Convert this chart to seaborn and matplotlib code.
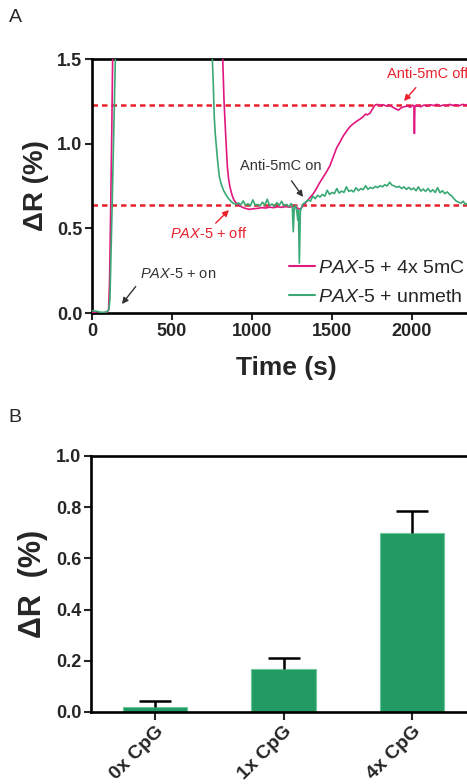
import matplotlib
matplotlib.use("Agg")
import matplotlib.pyplot as plt
import seaborn as sns
import pandas as pd

# ---- Panel A: SPR traces (time in s, delta R in %) ----
t_meth = [0, 20, 40, 60, 80, 95, 104, 110, 118, 124, 129, 140, 760, 817, 825, 835,
          846, 854, 862, 874, 887, 905, 925, 950, 970, 987, 1010, 1035, 1060, 1085,
          1110, 1135, 1160, 1185, 1210, 1235, 1260, 1280, 1300, 1315, 1330, 1350,
          1370, 1383, 1400, 1420, 1440, 1467, 1487, 1505, 1529, 1550, 1570, 1592,
          1612, 1630, 1650, 1675, 1696, 1710, 1720, 1737, 1750, 1769, 1785, 1800,
          1820, 1840, 1860, 1880, 1900, 1915, 1930, 1950, 1970, 1990, 2005, 2012,
          2015, 2018, 2035, 2055, 2075, 2095, 2115, 2135, 2155, 2175, 2195, 2215,
          2235, 2255, 2275, 2295, 2315, 2335, 2355, 2375, 2400]
dr_meth = [0.005, 0.0, -0.003, 0.0, 0.002, 0.005, 0.02, 0.2, 0.7, 1.1, 1.5, 2.3, 2.4,
           1.5, 1.258, 1.06, 0.864, 0.79, 0.746, 0.70, 0.667, 0.645, 0.632, 0.62,
           0.615, 0.612, 0.616, 0.618, 0.622, 0.62, 0.625, 0.622, 0.627, 0.624,
           0.628, 0.625, 0.63, 0.622, 0.612, 0.628, 0.645, 0.668, 0.69, 0.705, 0.73,
           0.765, 0.795, 0.836, 0.87, 0.915, 0.975, 1.01, 1.045, 1.075, 1.10, 1.115,
           1.13, 1.145, 1.16, 1.175, 1.17, 1.18, 1.20, 1.228, 1.232, 1.225, 1.23,
           1.222, 1.228, 1.215, 1.205, 1.198, 1.21, 1.218, 1.222, 1.215, 1.228,
           1.22, 1.06, 1.222, 1.225, 1.218, 1.228, 1.222, 1.23, 1.225, 1.232, 1.222,
           1.228, 1.225, 1.232, 1.226, 1.23, 1.224, 1.232, 1.228, 1.234, 1.228, 1.232]

t_unmeth = [0, 15, 30, 50, 70, 90, 105, 112, 125, 138, 146, 160, 700, 752, 758, 764,
            771, 779, 787, 796, 808, 821, 836, 852, 868, 883, 900, 915, 930, 945,
            960, 975, 990, 1005, 1020, 1035, 1050, 1065, 1080, 1095, 1110, 1125,
            1140, 1155, 1170, 1185, 1200, 1215, 1230, 1245, 1252, 1258, 1264, 1272,
            1280, 1286, 1290, 1296, 1302, 1310, 1320, 1335, 1350, 1365, 1380, 1395,
            1410, 1425, 1440, 1455, 1470, 1485, 1500, 1515, 1530, 1545, 1560, 1575,
            1590, 1605, 1620, 1635, 1650, 1665, 1680, 1695, 1710, 1725, 1740, 1755,
            1770, 1785, 1800, 1815, 1830, 1845, 1860, 1875, 1890, 1905, 1920, 1935,
            1950, 1965, 1980, 1995, 2010, 2025, 2040, 2055, 2070, 2085, 2100, 2115,
            2130, 2145, 2160, 2175, 2190, 2205, 2220, 2235, 2250, 2262, 2275, 2290,
            2305, 2320, 2335, 2350, 2365, 2380, 2400]
dr_unmeth = [0.015, 0.012, 0.01, 0.005, 0.004, 0.006, 0.02, 0.08, 0.6, 1.15, 1.5, 2.3,
             2.4, 1.5, 1.357, 1.16, 1.05, 0.963, 0.88, 0.805, 0.76, 0.726, 0.70,
             0.677, 0.66, 0.648, 0.642, 0.650, 0.638, 0.662, 0.636, 0.645, 0.633,
             0.668, 0.637, 0.641, 0.632, 0.655, 0.636, 0.672, 0.634, 0.644, 0.630,
             0.652, 0.635, 0.660, 0.633, 0.641, 0.628, 0.646, 0.63, 0.48, 0.62,
             0.636, 0.60, 0.55, 0.61, 0.295, 0.60, 0.625, 0.645, 0.655, 0.668, 0.66,
             0.69, 0.675, 0.695, 0.685, 0.70, 0.69, 0.725, 0.70, 0.712, 0.705, 0.735,
             0.708, 0.72, 0.712, 0.745, 0.718, 0.725, 0.715, 0.74, 0.722, 0.735,
             0.728, 0.752, 0.73, 0.742, 0.735, 0.748, 0.74, 0.752, 0.745, 0.758,
             0.75, 0.772, 0.755, 0.75, 0.742, 0.748, 0.735, 0.745, 0.73, 0.742,
             0.728, 0.738, 0.722, 0.745, 0.72, 0.732, 0.718, 0.735, 0.715, 0.728,
             0.712, 0.74, 0.71, 0.722, 0.705, 0.715, 0.70, 0.69, 0.675, 0.662, 0.655,
             0.648, 0.66, 0.64, 0.652, 0.642, 0.655, 0.645]

ref_levels = [1.23, 0.64]
time_ticks = [0, 500, 1000, 1500, 2000]
dr_ticks_a = [0.0, 0.5, 1.0, 1.5]

# ---- Panel B: response per CpG count ----
cpg_labels = ["0x CpG", "1x CpG", "4x CpG"]
cpg_dr = [0.018, 0.168, 0.698]
cpg_sem = [0.026, 0.042, 0.088]
dr_ticks_b = [0.0, 0.2, 0.4, 0.6, 0.8, 1.0]

PINK = "#e0187f"
GREEN_LINE = "#3aa874"
GREEN_BAR = "#229a63"
RED = "#e8202a"
DARK = "#333333"

sns.set_style("ticks")
plt.rcParams["font.family"] = ["Liberation Sans", "DejaVu Sans"]
plt.rcParams["mathtext.fontset"] = "custom"
plt.rcParams["mathtext.rm"] = "Liberation Sans"
plt.rcParams["mathtext.it"] = "Liberation Sans:italic"
plt.rcParams["mathtext.bf"] = "Liberation Sans:bold"

W, H = 467, 784
fig = plt.figure(figsize=(W / 100, H / 100), dpi=100)


def px_axes(left, top, right, bottom):
    return fig.add_axes([left / W, 1 - bottom / H, (right - left) / W, (bottom - top) / H])


def style_axes(ax):
    for side in ("left", "bottom", "top"):
        ax.spines[side].set_linewidth(1.9)
        ax.spines[side].set_color("black")
    ax.spines["right"].set_visible(False)
    ax.tick_params(direction="out", length=5, width=1.5, labelsize=13, pad=2)
    for lab in ax.get_xticklabels() + ax.get_yticklabels():
        lab.set_fontweight("bold")


PAX = r"$\mathit{PAX}$-$\mathit{5}$"

# ---------------- Panel A ----------------
axA = px_axes(92, 59, 492, 313)
df_meth = pd.DataFrame({"t": t_meth, "dr": dr_meth})
df_unmeth = pd.DataFrame({"t": t_unmeth, "dr": dr_unmeth})
for lvl in ref_levels:
    axA.axhline(lvl, color=RED, lw=1.8, ls=(0, (2.2, 1.6)), zorder=1)
sns.lineplot(data=df_meth, x="t", y="dr", ax=axA, color=PINK, lw=1.2,
             sort=False, estimator=None, label=PAX + " + 4x 5mC", zorder=3)
sns.lineplot(data=df_unmeth, x="t", y="dr", ax=axA, color=GREEN_LINE, lw=1.2,
             sort=False, estimator=None, label=PAX + " + unmeth", zorder=3)
axA.set_xlim(0, 2500)
axA.set_ylim(0, 1.5)
axA.set_xticks(time_ticks)
axA.set_yticks(dr_ticks_a)
axA.set_yticklabels([f"{v:.1f}" for v in dr_ticks_a])
style_axes(axA)
axA.set_xlabel("Time (s)", fontsize=19, fontweight="bold", va="center")
axA.xaxis.set_label_coords((286 - 92) / 400, (313 - 368) / 254)
axA.set_ylabel("ΔR (%)", fontsize=20, fontweight="bold", va="center")
axA.yaxis.set_label_coords((36 - 92) / 400, 0.5)

leg = axA.legend(loc="upper left", bbox_to_anchor=(289 / W, 1 - 259 / H),
                 bbox_transform=fig.transFigure, frameon=False, fontsize=14,
                 handlelength=1.35, handletextpad=0.15, labelspacing=0.6,
                 borderpad=0, borderaxespad=0)
for line in leg.get_lines():
    line.set_linewidth(1.5)

ann = dict(fontsize=10.5, annotation_clip=False)
axA.annotate("Anti-5mC off", xy=(1950, 1.252), xytext=(1844, 1.41), color=RED,
             ha="left", va="center",
             arrowprops=dict(arrowstyle="-|>", color=RED, lw=1.0, mutation_scale=9,
                             shrinkA=3, shrinkB=0), **ann)
axA.annotate("Anti-5mC on", xy=(1319, 0.685), xytext=(1181, 0.868), color=DARK,
             ha="center", va="center",
             arrowprops=dict(arrowstyle="-|>", color=DARK, lw=1.0, mutation_scale=9,
                             shrinkA=4, shrinkB=0), **ann)
axA.annotate(PAX + " + off", xy=(856, 0.608), xytext=(487, 0.467), color=RED,
             ha="left", va="center",
             arrowprops=dict(arrowstyle="-|>", color=RED, lw=1.0, mutation_scale=9,
                             shrinkA=0, shrinkB=0, relpos=(0.55, 1.0)), **ann)
axA.annotate(PAX + " + on", xy=(187, 0.053), xytext=(300, 0.23), color=DARK,
             ha="left", va="center",
             arrowprops=dict(arrowstyle="-|>", color=DARK, lw=1.0, mutation_scale=9,
                             shrinkA=2, shrinkB=0, relpos=(0.0, 0.0)), **ann)

# ---------------- Panel B ----------------
axB = px_axes(91, 456, 476, 712)
df_b = pd.DataFrame({"cpg": cpg_labels, "dr": cpg_dr})
sns.barplot(data=df_b, x="cpg", y="dr", ax=axB, color=GREEN_BAR, width=0.5,
            edgecolor="#6cc79a", linewidth=0.8, errorbar=None, saturation=1)
_, caps, _ = axB.errorbar(range(len(cpg_labels)), cpg_dr,
                          yerr=[[0] * len(cpg_sem), cpg_sem], fmt="none",
                          ecolor="black", elinewidth=1.8, capsize=11.5,
                          capthick=1.8, zorder=4)
# one-sided bars: keep only the upper caps
caps[0].set_visible(False)
axB.set_xlim(-0.5, 2.5)
axB.set_ylim(0, 1.0)
axB.set_yticks(dr_ticks_b)
axB.set_yticklabels([f"{v:.1f}" for v in dr_ticks_b])
style_axes(axB)
axB.tick_params(axis="x", length=6)
axB.set_xticklabels(cpg_labels, rotation=45, ha="right", rotation_mode="anchor",
                    fontsize=14, fontweight="bold")
axB.set_xlabel("")
axB.set_ylabel("ΔR  (%)", fontsize=22, fontweight="bold", va="center")
axB.yaxis.set_label_coords((33 - 91) / 385, 0.5)

fig.text(15 / W, 1 - 18 / H, "A", fontsize=14, ha="center", va="center")
fig.text(15 / W, 1 - 418 / H, "B", fontsize=14, ha="center", va="center")

fig.savefig("out.png", dpi=100)
